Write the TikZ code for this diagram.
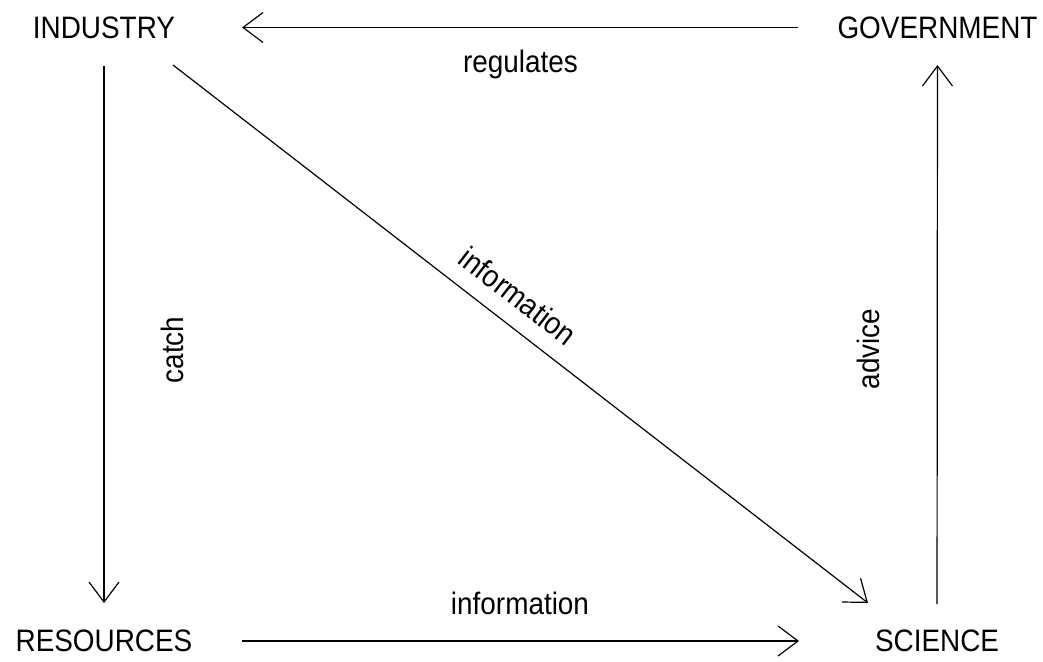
\documentclass[tikz,border=0pt]{standalone}
\usepackage{fontspec}
\setmainfont[FakeStretch=0.9]{Liberation Sans}
\usetikzlibrary{arrows.meta}
\begin{document}
\begin{tikzpicture}[x=1pt, y=-1pt, main/.style = {inner sep=0pt, font=\fontsize{31}{37}\selectfont}, lbl/.style = {inner sep=0pt, font=\fontsize{31}{37}\selectfont}, line width=1.2pt, >={Straight Barb[length=20pt, width=30pt]}]
        \useasboundingbox (0, 0) rectangle (1043, 661);

        \node[main] (ind) at (104, 27.5) {INDUSTRY};
        \node[main] (gov) at (937.5, 27.5) {GOVERNMENT};
        \node[main] (res) at (104, 641) {RESOURCES};
        \node[main] (sci) at (937, 641) {SCIENCE};

        \node[lbl, anchor=base] (reg) at (520.5, 73) {regulates};
        \node[lbl, anchor=base] (info1) at (520, 614) {information};
        \node[lbl, anchor=base, rotate=90] (catch) at (183, 350) {catch};
        \node[lbl, anchor=base, rotate=90] (adv) at (879, 349) {advice};
        \node[lbl, rotate=-37.7] (info2) at (518, 296) {information};

        \draw[->, shorten <=139.5pt, shorten >=138pt] (gov.center) -- (ind.center);
        \draw[->, shorten <=38.5pt, shorten >=38pt] (ind.center) -- (res.center);
        \draw[->, shorten <=138pt, shorten >=138pt] (res.center) -- (sci.center);
        \draw[->, shorten <=37pt, shorten >=37.5pt] (sci.center) -- (gov.center);
        \draw[->] ([shift={(69pt,-37.5pt)}]ind.center) -- ([shift={(-69pt,38pt)}]sci.center);
    \end{tikzpicture}
\end{document}
